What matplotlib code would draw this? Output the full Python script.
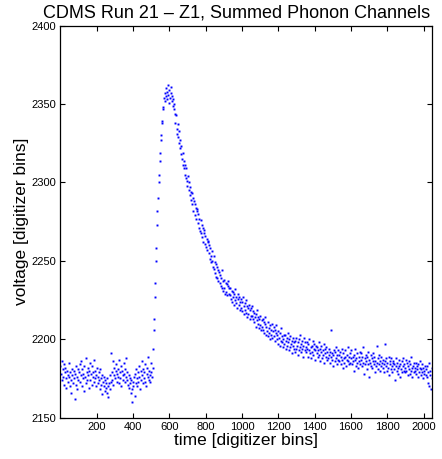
import numpy as np
import matplotlib
matplotlib.use('Agg')
from matplotlib import pyplot as plt

plt.rcParams['font.family'] = ['Liberation Sans', 'DejaVu Sans']

# Sampled every 3 digitizer bins (bin 1 .. 2047)
baseline = [
    2183, 2178, 2186, 2174, 2181, 2176, 2184, 2171, 2179, 2182, 2175, 2169, 2180, 2177, 2173, 2185, 2176,
    2170, 2179, 2174, 2166, 2181, 2177, 2172, 2180, 2175, 2162, 2178, 2183, 2171, 2176, 2168, 2181, 2174,
    2179, 2184, 2173, 2177, 2186, 2170, 2181, 2175, 2178, 2167, 2183, 2176, 2188, 2172, 2179, 2174, 2182,
    2177, 2169, 2180, 2185, 2174, 2178, 2171, 2183, 2176, 2179, 2173, 2187, 2175, 2180, 2170, 2177, 2182,
    2176, 2172, 2179, 2174, 2181, 2168, 2175, 2171, 2177, 2165, 2173, 2170, 2176, 2167, 2174, 2169, 2172,
    2166, 2175, 2170, 2163, 2172, 2168, 2177, 2173, 2191, 2179, 2174, 2186, 2171, 2182, 2177, 2175, 2180,
    2184, 2173, 2178, 2181, 2176, 2187, 2172, 2179, 2175, 2183, 2170, 2180, 2177, 2174, 2185, 2178, 2173,
    2181, 2176, 2188, 2174, 2179, 2171, 2177, 2169, 2175, 2172, 2166, 2174, 2168, 2160, 2173, 2170, 2176,
    2164, 2178, 2172, 2181, 2175, 2170, 2179, 2173, 2183, 2176, 2168, 2180, 2174, 2186, 2177, 2172, 2181,
    2175, 2179, 2173, 2184, 2170, 2178, 2182, 2176, 2189, 2174, 2180, 2177, 2173, 2185, 2179, 2176, 2182,
]

rise = [
    2194, 2206, 2213, 2227, 2236, 2250, 2258, 2273, 2282, 2290, 2300,
    2305, 2314, 2319, 2327, 2330, 2338, 2339, 2347, 2348, 2354,
]

decay = [
    2352, 2357, 2355, 2360, 2353, 2358, 2362, 2356, 2351, 2359, 2354, 2357, 2361, 2352, 2355, 2349, 2353, 2347, 2350, 2344,
    2338, 2343, 2334, 2331, 2337, 2329, 2333, 2325, 2322, 2327, 2318, 2323, 2315, 2319, 2311, 2309, 2314, 2305, 2311, 2303,
    2309, 2301, 2298, 2304, 2295, 2300, 2292, 2297, 2289, 2294, 2286, 2293, 2290, 2282, 2288, 2279, 2286, 2284, 2277, 2283,
    2282, 2274, 2280, 2271, 2277, 2269, 2276, 2268, 2273, 2265, 2271, 2262, 2268, 2270, 2261, 2266, 2259, 2264, 2257, 2263,
    2262, 2255, 2260, 2251, 2258, 2253, 2249, 2256, 2250, 2246, 2253, 2245, 2249, 2242, 2248, 2240, 2246, 2239, 2244, 2237,
    2243, 2236, 2241, 2234, 2239, 2244, 2233, 2237, 2231, 2238, 2233, 2229, 2236, 2230, 2235, 2228, 2234, 2237, 2229, 2233,
    2228, 2233, 2226, 2231, 2224, 2230, 2227, 2222, 2229, 2225, 2232, 2223, 2227, 2220, 2226, 2229, 2222, 2227, 2219, 2224,
    2226, 2220, 2224, 2218, 2227, 2221, 2216, 2223, 2219, 2225, 2217, 2221, 2214, 2220, 2216, 2222, 2213, 2219, 2215, 2220,
    2215, 2221, 2213, 2218, 2211, 2217, 2214, 2208, 2216, 2212, 2219, 2210, 2214, 2207, 2213, 2209, 2215, 2206, 2212, 2208,
    2213, 2206, 2211, 2204, 2210, 2214, 2203, 2208, 2205, 2211, 2202, 2207, 2204, 2209, 2200, 2206, 2203, 2210, 2201, 2205,
    2208, 2202, 2206, 2199, 2204, 2209, 2200, 2203, 2197, 2205, 2201, 2196, 2204, 2199, 2207, 2198, 2202, 2195, 2200, 2203,
    2197, 2203, 2199, 2194, 2201, 2196, 2204, 2198, 2193, 2200, 2195, 2202, 2197, 2191, 2199, 2196, 2201, 2194, 2198, 2192,
    2199, 2194, 2201, 2196, 2190, 2198, 2193, 2200, 2195, 2203, 2192, 2197, 2194, 2199, 2189, 2196, 2201, 2193, 2198, 2195,
    2192, 2198, 2194, 2189, 2197, 2193, 2200, 2191, 2195, 2188, 2196, 2192, 2199, 2190, 2194, 2197, 2187, 2193, 2196, 2191,
    2195, 2189, 2193, 2198, 2190, 2194, 2186, 2192, 2196, 2188, 2193, 2190, 2197, 2185, 2191, 2194, 2189, 2195, 2187, 2192,
    2188, 2194, 2190, 2185, 2192, 2189, 2206, 2187, 2191, 2183, 2190, 2193, 2186, 2192, 2188, 2195, 2184, 2190, 2187, 2193,
    2190, 2186, 2192, 2184, 2189, 2194, 2187, 2191, 2182, 2188, 2185, 2193, 2189, 2183, 2190, 2187, 2195, 2186, 2189, 2184,
    2191, 2185, 2188, 2193, 2184, 2189, 2186, 2180, 2190, 2187, 2194, 2183, 2188, 2185, 2191, 2182, 2189, 2186, 2192, 2184,
    2187, 2191, 2183, 2189, 2195, 2185, 2178, 2188, 2184, 2190, 2186, 2181, 2189, 2192, 2184, 2187, 2176, 2185, 2190, 2183,
    2188, 2182, 2186, 2191, 2184, 2189, 2179, 2186, 2183, 2196, 2185, 2181, 2188, 2184, 2190, 2180, 2186, 2183, 2189, 2185,
    2182, 2187, 2184, 2179, 2186, 2197, 2183, 2188, 2180, 2185, 2182, 2189, 2177, 2184, 2186, 2181, 2188, 2183, 2179, 2185,
    2186, 2181, 2184, 2174, 2183, 2188, 2180, 2185, 2182, 2178, 2187, 2183, 2176, 2184, 2181, 2186, 2179, 2183, 2188, 2180,
    2184, 2179, 2182, 2187, 2180, 2185, 2177, 2183, 2181, 2186, 2178, 2184, 2180, 2189, 2182, 2176, 2183, 2185, 2179, 2182,
    2180, 2185, 2178, 2183, 2181, 2176, 2184, 2179, 2182, 2186, 2177, 2181, 2179, 2184, 2175, 2182, 2180, 2178, 2183, 2177,
    2181, 2176, 2183, 2172, 2179, 2185, 2170, 2180, 2177, 2168, 2182, 2175,
]

voltage = np.array(baseline + rise + decay)
time_bins = np.arange(1, 2048, 3)

xticks = [200, 400, 600, 800, 1000, 1200, 1400, 1600, 1800, 2000]
yticks = [2150, 2200, 2250, 2300, 2350, 2400]

fig = plt.figure(figsize=(4.42, 4.59), dpi=100)
ax = fig.add_axes([0.1364, 0.09, 0.8416, 0.854])

ax.plot(time_bins, voltage, 's', color='b', markersize=1.4, markeredgewidth=0)

ax.set_xlim(0, 2048)
ax.set_ylim(2150, 2400)
ax.set_xticks(xticks)
ax.set_yticks(yticks)
ax.tick_params(direction='in', top=True, right=True, length=3.5, width=0.8,
               labelsize=8, pad=3)
for s in ax.spines.values():
    s.set_linewidth(0.9)

ax.set_title('CDMS Run 21 \u2013 Z1, Summed Phonon Channels', fontsize=13, pad=6, x=0.474)
ax.set_xlabel('time [digitizer bins]', fontsize=12.5, labelpad=1)
ax.set_ylabel('voltage [digitizer bins]', fontsize=12.5, labelpad=2)

fig.savefig('out.png', dpi=100)
plt.close(fig)
